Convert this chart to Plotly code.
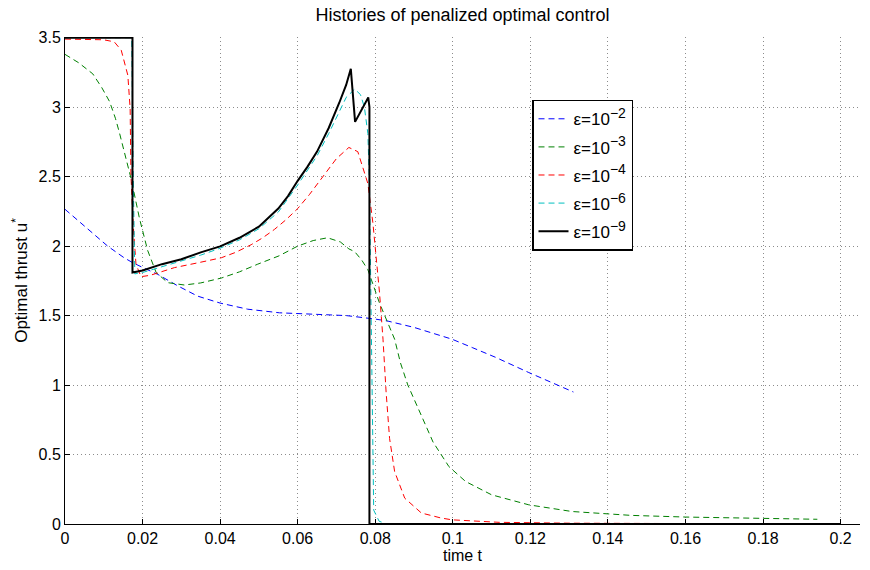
import plotly.graph_objects as go

# ---------------- data ----------------
t_e2 = [0, 0.0035, 0.00716, 0.011, 0.0153, 0.0175, 0.0205, 0.0239, 0.029, 0.0342, 0.040, 0.0471,
        0.0553, 0.0639, 0.0725, 0.080, 0.0833, 0.0900, 0.0974, 0.0998, 0.105, 0.111, 0.1196, 0.1311]
u_e2 = [2.265, 2.18, 2.095, 2.0, 1.915, 1.88, 1.84, 1.797, 1.715, 1.64, 1.59, 1.546,
        1.52, 1.51, 1.50, 1.475, 1.46, 1.415, 1.355, 1.33, 1.27, 1.20, 1.09, 0.95]

t_e3 = [0, 0.0035, 0.00716, 0.0095, 0.0115, 0.013, 0.014, 0.0158, 0.017, 0.0192, 0.0205, 0.0213,
        0.0235, 0.0265, 0.0308, 0.035, 0.0403, 0.045, 0.0497, 0.0552, 0.060, 0.064, 0.0677,
        0.071, 0.0732, 0.0747, 0.0765, 0.0781, 0.0811, 0.083, 0.085, 0.0865, 0.0884, 0.0919,
        0.0949, 0.099, 0.1033, 0.110, 0.1196, 0.1307, 0.146, 0.160, 0.1796, 0.194]
u_e3 = [3.38, 3.32, 3.24, 3.14, 3.04, 2.92, 2.82, 2.63, 2.49, 2.20, 2.06, 1.97,
        1.81, 1.737, 1.72, 1.735, 1.77, 1.815, 1.87, 1.93, 2.0, 2.04, 2.06,
        2.03, 1.98, 1.96, 1.90, 1.83, 1.59, 1.46, 1.33, 1.16, 1.0, 0.78,
        0.59, 0.413, 0.306, 0.21, 0.138, 0.09, 0.062, 0.05, 0.043, 0.034]

t_e4 = [0, 0.005, 0.01, 0.0127, 0.0145, 0.0162, 0.0168, 0.017, 0.0176, 0.0183, 0.0196, 0.022,
        0.025, 0.0282, 0.0343, 0.0403, 0.044, 0.048, 0.051, 0.054, 0.057, 0.060, 0.063, 0.0664,
        0.070, 0.0732, 0.0755, 0.0781, 0.0794, 0.0802, 0.0811, 0.082, 0.0828, 0.0837, 0.085,
        0.0876, 0.0919, 0.097, 0.0998, 0.112, 0.13, 0.16, 0.2]
u_e4 = [3.49, 3.49, 3.485, 3.47, 3.41, 3.23, 2.99, 2.51, 2.15, 1.87, 1.78, 1.79,
        1.815, 1.845, 1.88, 1.916, 1.955, 2.01, 2.06, 2.12, 2.19, 2.27, 2.37, 2.50,
        2.63, 2.71, 2.68, 2.45, 2.165, 1.93, 1.665, 1.33, 0.95, 0.615, 0.377,
        0.186, 0.079, 0.043, 0.03, 0.012, 0.006, 0.003, 0.002]

t_e6 = [0, 0.0172, 0.0176, 0.018, 0.02, 0.025, 0.03, 0.035, 0.04, 0.045, 0.05, 0.055, 0.06,
        0.065, 0.068, 0.0707, 0.0725, 0.0747, 0.0762, 0.0772, 0.0781, 0.0785, 0.0789, 0.0792,
        0.0796, 0.081, 0.083, 0.2]
u_e6 = [3.5, 3.5, 2.5, 1.80, 1.81, 1.85, 1.89, 1.935, 1.985, 2.045, 2.125, 2.245, 2.44,
        2.65, 2.81, 2.97, 3.07, 3.13, 3.09, 3.0, 2.81, 2.45, 1.5, 0.6,
        0.1, 0.02, 0.0, 0.0]

t_e9 = [0, 0.0174, 0.0174, 0.02, 0.025, 0.03, 0.035, 0.04, 0.045, 0.05, 0.055, 0.0575, 0.06,
        0.0625, 0.065, 0.068, 0.0707, 0.0725, 0.0737, 0.0748, 0.0782, 0.0785, 0.0785, 0.2]
u_e9 = [3.5, 3.5, 1.81, 1.825, 1.87, 1.905, 1.955, 1.998, 2.06, 2.14, 2.27, 2.36, 2.47,
        2.57, 2.68, 2.85, 3.03, 3.16, 3.276, 2.894, 3.07, 3.0, 0, 0]

x_ticks = [0, 0.02, 0.04, 0.06, 0.08, 0.1, 0.12, 0.14, 0.16, 0.18, 0.2]
x_tick_labels = ["0", "0.02", "0.04", "0.06", "0.08", "0.1", "0.12", "0.14", "0.16", "0.18", "0.2"]
y_ticks = [0, 0.5, 1, 1.5, 2, 2.5, 3, 3.5]
y_tick_labels = ["0", "0.5", "1", "1.5", "2", "2.5", "3", "3.5"]

title_text = "Histories of penalized optimal control"
x_label = "time t"
y_label = "Optimal thrust u<sup>*</sup>"


def eps_label(exp):
    return "ε=10<sup><span style='font-size:14px'>−%d</span></sup>" % exp


series = [
    (eps_label(2), t_e2, u_e2, "#0000ff", 1, "6px,4px"),
    (eps_label(3), t_e3, u_e3, "#008000", 1, "6px,4px"),
    (eps_label(4), t_e4, u_e4, "#ff0000", 1, "6px,4px"),
    (eps_label(6), t_e6, u_e6, "#00bfbf", 1, "6px,4px"),
    (eps_label(9), t_e9, u_e9, "#000000", 2, "solid"),
]

FONT = "Liberation Sans, Arial, Helvetica, sans-serif"

fig = go.Figure()
for i, (name, xs, ys, col, w, dash) in enumerate(series):
    fig.add_trace(go.Scatter(x=xs, y=ys, mode="lines", name=name, legendgroup="g%d" % i,
                             line=dict(color=col, width=w, dash=dash)))

axis_common = dict(
    showline=True, linecolor="black", linewidth=1, mirror=False,
    ticks="inside", ticklen=5, tickcolor="black", tickwidth=1,
    showgrid=True, gridcolor="#8c8c8c", gridwidth=1, griddash="1px,3px",
    zeroline=False, tickfont=dict(family=FONT, size=16, color="black"),
)

fig.update_layout(
    width=870, height=570,
    margin=dict(l=65, r=10, t=37, b=44),
    paper_bgcolor="white", plot_bgcolor="white",
    font=dict(family=FONT, size=16, color="black"),
    title=dict(text=title_text, x=0.5, xref="paper", y=1 - 15 / 570, yref="container",
               xanchor="center", yanchor="middle", font=dict(family=FONT, size=18)),
    xaxis=dict(range=[0, 0.205], tickvals=x_ticks, ticktext=x_tick_labels,
               title=dict(text=x_label, standoff=2, font=dict(family=FONT, size=16)),
               **axis_common),
    yaxis=dict(range=[0, 3.505], tickvals=y_ticks, ticktext=y_tick_labels,
               title=dict(text=y_label, standoff=6, font=dict(family=FONT, size=17)),
               **axis_common),
    legend=dict(x=(532 - 65) / 795, y=(526 - 100) / 489, xanchor="left", yanchor="top",
                bgcolor="white", bordercolor="black", borderwidth=1.5,
                font=dict(family=FONT, size=17), itemwidth=30, tracegroupgap=3),
    showlegend=True,
)

fig.write_html("out.html")
